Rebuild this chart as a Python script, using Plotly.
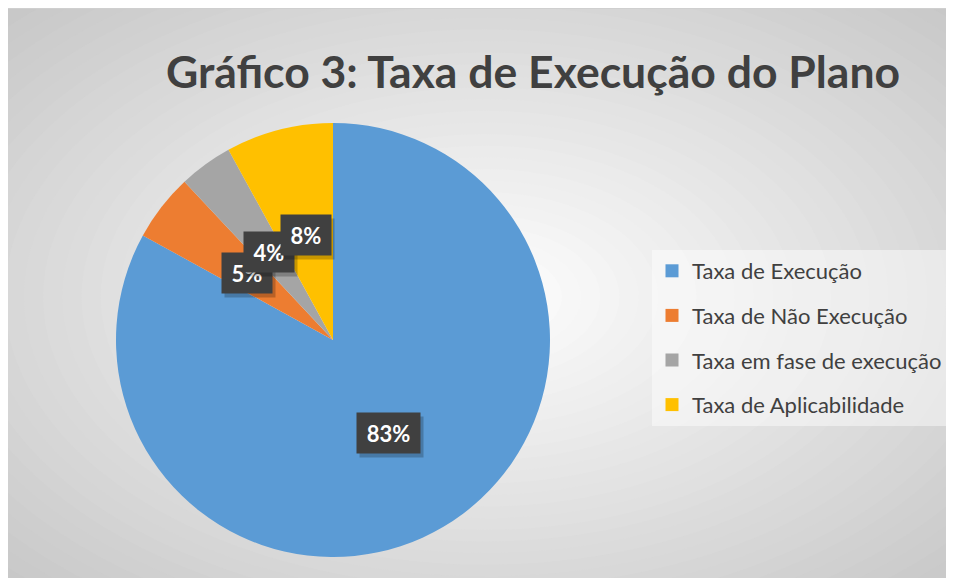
import math
import plotly.graph_objects as go

# dados do gráfico
categorias = ["Taxa de Execução", "Taxa de Não Execução",
              "Taxa em fase de execução", "Taxa de Aplicabilidade"]
valores = [83, 5, 4, 8]
rotulos = ["83%", "5%", "4%", "8%"]
cores = ["#5B9BD5", "#ED7D31", "#A5A5A5", "#FFC000"]

W, H = 954, 578
pie_dom_x = [108 / W, 542 / W]
pie_dom_y = [1 - 549 / H, 1 - 115 / H]
raio_px = 217

fig = go.Figure()

fig.add_trace(go.Pie(
    labels=categorias, values=valores, sort=False, direction="clockwise",
    rotation=0, marker=dict(colors=cores, line=dict(width=0)),
    textinfo="none", hoverinfo="label+percent", showlegend=False,
    domain=dict(x=pie_dom_x, y=pie_dom_y),
))

# entradas de legenda (uma por categoria)
for i, (cat, cor) in enumerate(zip(categorias, cores)):
    fig.add_trace(go.Scatter(
        x=[None], y=[None], mode="markers", name=cat, legendgroup=f"g{i}",
        marker=dict(symbol="square", size=13, color=cor),
    ))

# rótulos de dados em caixas escuras, posicionados a partir dos valores
total = sum(valores)
cx = sum(pie_dom_x) / 2
cy = sum(pie_dom_y) / 2
acum = 0
for v, txt in zip(valores, rotulos):
    theta = math.radians(360 * (acum + v / 2) / total)
    acum += v
    x = cx + 0.5 * raio_px / W * math.sin(theta)
    y = cy + 0.5 * raio_px / H * math.cos(theta)
    caixa = dict(xref="paper", yref="paper", xanchor="center", yanchor="middle",
                 showarrow=False, borderpad=6, width=13 * len(txt) + 12, height=28)
    # sombra
    fig.add_annotation(x=x + 3 / W, y=y - 4 / H, text="",
                       bgcolor="rgba(0,0,0,0.22)", **caixa)
    fig.add_annotation(x=x, y=y, text=f"<b>{txt}</b>",
                       font=dict(family="Lato", size=22, color="white"),
                       bgcolor="#404040", **caixa)

# fundo com gradiente radial (elipses concêntricas)
gcx, gcy = W / 2, H / 2
hw, hh = W / 2, H / 2
shapes = []
passos = 36
for k in range(passos, 0, -1):
    d = 1.45 * k / passos
    c = int(round(255 - 39 * d))
    shapes.append(dict(
        type="circle", xref="paper", yref="paper", layer="below",
        x0=(gcx - d * hw) / W, x1=(gcx + d * hw) / W,
        y0=1 - (gcy + d * hh) / H, y1=1 - (gcy - d * hh) / H,
        fillcolor=f"rgb({c},{c},{c})", line=dict(width=0),
    ))
shapes.append(dict(type="line", xref="paper", yref="paper", layer="below",
                   x0=0, x1=1, y0=1, y1=1,
                   line=dict(color="#cfcfcf", width=2)))

fig.update_layout(
    width=W, height=H,
    margin=dict(l=0, r=0, t=0, b=0),
    paper_bgcolor="#c8c8c8", plot_bgcolor="rgba(0,0,0,0)",
    shapes=shapes,
    xaxis=dict(visible=False), yaxis=dict(visible=False),
    title=dict(text="<b>Gráfico 3: Taxa de Execução do Plano</b>",
               x=525 / W, xanchor="center", y=1 - 64 / H, yanchor="middle",
               font=dict(family="Lato", size=44.5, color="#404040")),
    legend=dict(x=644 / W, xanchor="left", y=1 - 242 / H, yanchor="top",
                bgcolor="rgba(255,255,255,0.45)", tracegroupgap=13,
                font=dict(family="Lato", size=22, color="#404040")),
    font=dict(family="Lato"),
)

fig.write_html("out.html")
